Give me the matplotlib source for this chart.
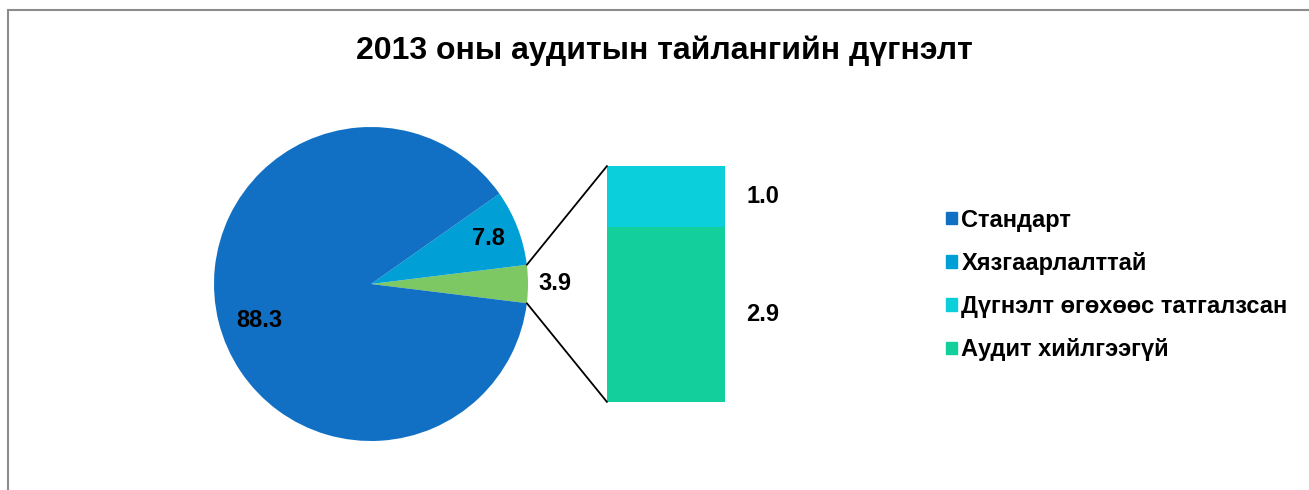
import numpy as np
import matplotlib.pyplot as plt
from matplotlib.patches import ConnectionPatch, Rectangle, Patch

plt.rcParams['font.family'] = ['Liberation Sans', 'DejaVu Sans']

# Data
title = '2013 оны аудитын тайлангийн дүгнэлт'
categories = ['Стандарт', 'Хязгаарлалттай', 'Дүгнэлт өгөхөөс татгалзсан', 'Аудит хийлгээгүй']
values = [88.3, 7.8, 1.0, 2.9]
colors = ['#1170C4', '#00A0D6', '#0BCFDA', '#12CF9B']
other_color = '#7DC862'

# pie: the last two categories are grouped into one slice
other = round(values[2] + values[3], 1)
pie_vals = [other, values[1], values[0]]
pie_cols = [other_color, colors[1], colors[0]]

W, H = 1309, 490
fig = plt.figure(figsize=(W / 100, H / 100), dpi=100)

# outer frame (only top/left edges visible)
fig.patches.append(Rectangle((7.5 / W, -0.2), 2, 1 - 10.5 / H + 0.2, transform=fig.transFigure,
                             fill=False, ec='#8c8c8c', lw=1.5))

fig.text(664 / W, 1 - 51 / H, title, ha='center', va='center', fontsize=23, fontweight='bold')

# pie axes: centre (371, 284), radius 157 px
cx, cy, r = 371, 284, 157
ax_pie = fig.add_axes([(cx - r) / W, (H - cy - r) / H, 2 * r / W, 2 * r / H])
start = -other / 100 * 360 / 2
wedges, _ = ax_pie.pie(pie_vals, colors=pie_cols, startangle=start, counterclock=True,
                       radius=1, wedgeprops=dict(linewidth=0))
ax_pie.set_xlim(-1, 1)
ax_pie.set_ylim(-1, 1)
ax_pie.axis('off')

label_r = [1.17, 0.8, 0.75]
for w, v, lr in zip(wedges, pie_vals, label_r):
    ang = np.deg2rad((w.theta1 + w.theta2) / 2)
    if v == values[0]:
        ang = np.deg2rad(198)
    ax_pie.text(lr * np.cos(ang), lr * np.sin(ang), f'{v:.1f}', ha='center', va='center',
                fontsize=17, fontweight='bold')

# stacked bar for the grouped slice: x 607..725, y 166..402 px
bx0, bx1, by0, by1 = 607, 725, 166, 402
ax_bar = fig.add_axes([bx0 / W, (H - by1) / H, (bx1 - bx0) / W, (by1 - by0) / H])
ax_bar.bar(0, values[3], width=1, color=colors[3])
ax_bar.bar(0, values[2], width=1, bottom=values[3], color=colors[2])
ax_bar.set_xlim(-0.5, 0.5)
ax_bar.set_ylim(0, other)
ax_bar.axis('off')
ax_bar.text(0.82, values[3] / 2, f'{values[3]:.1f}', ha='center', va='center',
            fontsize=17, fontweight='bold', clip_on=False)
ax_bar.text(0.82, values[3] + values[2] / 2, f'{values[2]:.1f}', ha='center', va='center',
            fontsize=17, fontweight='bold', clip_on=False)

# connector lines
w0 = wedges[0]
for theta, yb in [(w0.theta2, other), (w0.theta1, 0)]:
    t = np.deg2rad(theta)
    con = ConnectionPatch(xyA=(np.cos(t), np.sin(t)), coordsA=ax_pie.transData,
                          xyB=(-0.5, yb), coordsB=ax_bar.transData, color='black', lw=1.3)
    fig.add_artist(con)

handles = [Patch(color=c) for c in colors]
fig.legend(handles, categories, loc='center left', bbox_to_anchor=(946 / W, (H - 285) / H),
           frameon=False, prop=dict(weight='bold', size=17),
           handlelength=0.45, handleheight=0.45, handletextpad=0.2,
           labelspacing=0.86, borderpad=0, borderaxespad=0)

fig.savefig('out.png', dpi=100)
